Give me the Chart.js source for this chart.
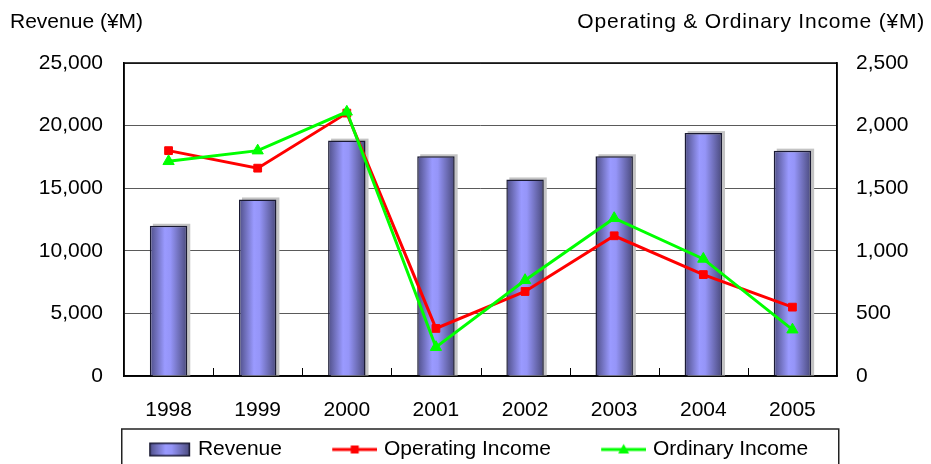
<!DOCTYPE html>
<html>
<head>
<meta charset="utf-8">
<script src="https://cdn.jsdelivr.net/npm/chart.js@4"></script>
<style>
  html, body { margin: 0; padding: 0; background: #fff; overflow: hidden; }
</style>
</head>
<body>
<canvas id="chart" width="931" height="464"></canvas>
<script>
// values
const years = ['1998', '1999', '2000', '2001', '2002', '2003', '2004', '2005'];
const revenue = [12000, 14100, 18800, 17550, 15700, 17550, 19400, 18000];
const operatingIncome = [1800, 1660, 2100, 380, 675, 1120, 810, 550];
const ordinaryIncome = [1715, 1800, 2110, 230, 765, 1260, 935, 370];
const seriesNames = ['Revenue', 'Operating Income', 'Ordinary Income'];
const leftAxisTitle = 'Revenue (¥M)';
const rightAxisTitle = 'Operating & Ordinary Income (¥M)';

const FONT = '"Liberation Sans", Arial, sans-serif';
const barPct = 0.42;

Chart.defaults.font.family = FONT;
Chart.defaults.font.size = 21;
Chart.defaults.color = '#000';

function barGradient(ctx, x0, x1) {
    const g = ctx.createLinearGradient(x0, 0, x1, 0);
    g.addColorStop(0, '#4e4e86');
    g.addColorStop(0.4, '#9a9aff');
    g.addColorStop(0.55, '#9595f8');
    g.addColorStop(1, '#4a4a7c');
    return g;
}

// small pictures used as legend symbols (right part is what shows)
function legendSwatch() {
    const c = document.createElement('canvas');
    c.width = 82; c.height = 16;
    const ctx = c.getContext('2d');
    ctx.fillStyle = barGradient(ctx, 40, 81);
    ctx.fillRect(40, 1, 41, 14);
    ctx.strokeStyle = '#1a1a33';
    ctx.lineWidth = 1.5;
    ctx.strokeRect(40.75, 1.75, 39.5, 12.5);
    return c;
}

function legendLine(color, marker) {
    const c = document.createElement('canvas');
    c.width = 82; c.height = 16;
    const ctx = c.getContext('2d');
    ctx.strokeStyle = color;
    ctx.lineWidth = 3;
    ctx.beginPath();
    ctx.moveTo(37, 8);
    ctx.lineTo(82, 8);
    ctx.stroke();
    ctx.fillStyle = color;
    if (marker === 'rect') {
        ctx.fillRect(55.5, 4, 8, 8);
    } else {
        ctx.beginPath();
        ctx.moveTo(59.5, 2.5);
        ctx.lineTo(65, 12);
        ctx.lineTo(54, 12);
        ctx.closePath();
        ctx.fill();
    }
    return c;
}

const legendImages = [legendSwatch(), legendLine('#ff0000', 'rect'), legendLine('#00ff00', 'triangle')];

// axis titles above the plot, bar shadows, plot frame, inner x ticks, legend frame
const chartDecor = {
    id: 'chartDecor',
    beforeDatasetsDraw(chart) {
        const { ctx, chartArea } = chart;
        ctx.save();
        ctx.strokeStyle = '#000';
        ctx.lineWidth = 1.5;
        ctx.strokeRect(chartArea.left, chartArea.top, chartArea.right - chartArea.left, chartArea.bottom - chartArea.top);
        // inner tick marks between categories
        const xs = chart.scales.x;
        ctx.lineWidth = 1;
        ctx.beginPath();
        for (let i = 1; i < years.length; i++) {
            const x = Math.round((xs.getPixelForValue(i - 1) + xs.getPixelForValue(i)) / 2) + 0.5;
            ctx.moveTo(x, chartArea.bottom);
            ctx.lineTo(x, chartArea.bottom - 8);
        }
        ctx.stroke();
        ctx.restore();
    },
    beforeDatasetDraw(chart, args) {
        if (args.index !== 0) return;
        const ctx = chart.ctx;
        ctx.save();
        ctx.fillStyle = '#c4c4c4';
        args.meta.data.forEach(bar => {
            ctx.fillRect(bar.x - bar.width / 2 + 3, bar.y - 2, bar.width, bar.base - bar.y + 2);
        });
        ctx.restore();
    },
    afterDraw(chart) {
        const { ctx, chartArea } = chart;
        ctx.save();
        ctx.font = '21px ' + FONT;
        ctx.fillStyle = '#000';
        ctx.textBaseline = 'middle';
        ctx.textAlign = 'left';
        ctx.fillText(leftAxisTitle, 10, 22);
        ctx.textAlign = 'right';
        ctx.letterSpacing = '0.8px';
        ctx.fillText(rightAxisTitle, 925, 22);
        ctx.letterSpacing = '0px';
        // legend frame
        ctx.strokeStyle = '#222';
        ctx.lineWidth = 1.5;
        ctx.strokeRect(chartArea.left - 2.25, chartArea.bottom + 53, chartArea.right - chartArea.left + 4, 100);
        ctx.restore();
    }
};

const ctx = document.getElementById('chart').getContext('2d');
new Chart(ctx, {
    type: 'bar',
    data: {
        labels: years,
        datasets: [
            {
                type: 'bar',
                label: seriesNames[0],
                data: revenue,
                yAxisID: 'y',
                order: 3,
                backgroundColor: c => {
                    const xs = c.chart.scales.x;
                    if (!xs || c.dataIndex === undefined) return '#9999ff';
                    const cx = xs.getPixelForValue(c.dataIndex);
                    const half = xs.width / years.length * barPct / 2;
                    return barGradient(c.chart.ctx, cx - half, cx + half);
                },
                borderColor: '#1a1a33',
                borderWidth: 1.5,
                categoryPercentage: 1,
                barPercentage: barPct
            },
            {
                type: 'line',
                label: seriesNames[1],
                data: operatingIncome,
                yAxisID: 'y1',
                order: 2,
                borderColor: '#ff0000',
                backgroundColor: '#ff0000',
                borderWidth: 3,
                pointStyle: 'rect',
                pointRadius: 5.5,
                pointBorderWidth: 1,
                tension: 0
            },
            {
                type: 'line',
                label: seriesNames[2],
                data: ordinaryIncome,
                yAxisID: 'y1',
                order: 1,
                borderColor: '#00ff00',
                backgroundColor: '#00ff00',
                borderWidth: 3,
                pointStyle: 'triangle',
                pointRadius: 6.5,
                pointBorderWidth: 1,
                tension: 0
            }
        ]
    },
    options: {
        responsive: false,
        animation: false,
        devicePixelRatio: 1,
        layout: { padding: { top: 63, left: -5, right: 5, bottom: -6 } },
        plugins: {
            title: { display: false },
            tooltip: { enabled: false },
            legend: {
                display: true,
                position: 'bottom',
                labels: {
                    usePointStyle: true,
                    pointStyleWidth: 74.5,
                    padding: 17,
                    font: { size: 21 },
                    color: '#000',
                    generateLabels: () => seriesNames.map((name, i) => ({
                        text: name,
                        pointStyle: legendImages[i],
                        fillStyle: 'transparent',
                        strokeStyle: 'transparent',
                        lineWidth: 0,
                        datasetIndex: i
                    }))
                }
            }
        },
        scales: {
            x: {
                afterFit: s => { s.height = 46; },
                grid: { display: false },
                border: { display: true, color: '#000', width: 1.5 },
                ticks: { padding: 14, font: { size: 21 } }
            },
            y: {
                position: 'left',
                min: 0,
                max: 25000,
                afterFit: s => { s.width = 129; },
                grid: { color: '#5a5a5a', lineWidth: 1, drawTicks: false },
                border: { display: true, color: '#000', width: 1.5 },
                ticks: {
                    stepSize: 5000,
                    padding: 21,
                    font: { size: 21 },
                    callback: v => v.toLocaleString('en-US')
                }
            },
            y1: {
                position: 'right',
                min: 0,
                max: 2500,
                afterFit: s => { s.width = 89; },
                grid: { drawOnChartArea: false, drawTicks: false },
                border: { display: true, color: '#000', width: 1.5 },
                ticks: {
                    stepSize: 500,
                    padding: 19,
                    font: { size: 21 },
                    callback: v => v.toLocaleString('en-US')
                }
            }
        }
    },
    plugins: [chartDecor]
});
</script>
</body>
</html>
